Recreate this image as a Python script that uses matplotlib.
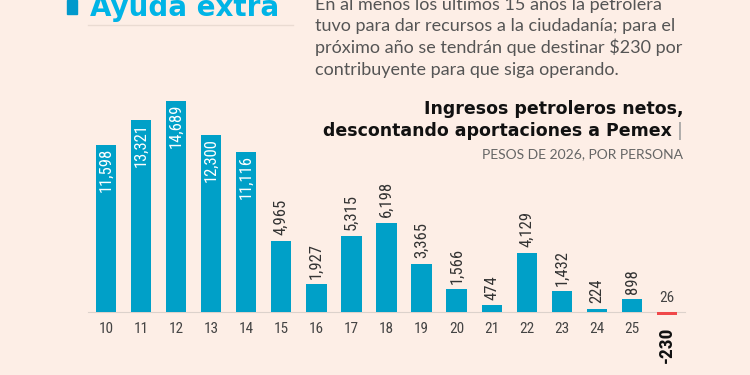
import matplotlib
matplotlib.use('Agg')
import matplotlib.pyplot as plt
from matplotlib import font_manager

# data
years = ['10', '11', '12', '13', '14', '15', '16', '17', '18',
         '19', '20', '21', '22', '23', '24', '25', '26']
values = [11598, 13321, 14689, 12300, 11116, 4965, 1927, 5315, 6198,
          3365, 1566, 474, 4129, 1432, 224, 898, -230]

bg = '#fdeee6'
blue = '#00a0c8'
red = '#f0484a'

# pick a narrow font if one is installed
names = {f.name for f in font_manager.fontManager.ttflist}
narrow_fp = dict(family='DejaVu Sans', stretch='condensed')
for n in ['Liberation Sans Narrow', 'Roboto Condensed', 'Open Sans Condensed']:
    if n in names:
        narrow_fp = dict(family=n)
        break

fig = plt.figure(figsize=(7.5, 3.75), dpi=100)
fig.patch.set_facecolor(bg)

ax = fig.add_axes([88/750, 15/375, 597/750, 270/375])
ax.set_facecolor(bg)
x = list(range(len(values)))
colors = [blue if v >= 0 else red for v in values]
ax.bar(x, values, width=0.58, color=colors, zorder=2)

ax.set_xlim(-0.51, 16.51)
ax.set_ylim(-3336, 15428)
for s in ['top', 'left', 'right']:
    ax.spines[s].set_visible(False)
ax.spines['bottom'].set_position(('data', 0))
ax.spines['bottom'].set_color('#dcd2cc')
ax.spines['bottom'].set_zorder(1)
ax.set_yticks([])
ax.set_xticks(x[:-1])
ax.set_xticklabels(years[:-1], fontsize=11, color='#444444', **narrow_fp)
ax.tick_params(axis='x', length=0, pad=7)

# value labels
for i, v in enumerate(values):
    if v >= 10000:
        ax.annotate(f'{v:,}', (i, v), xytext=(0, -2), textcoords='offset points',
                    rotation=90, ha='center', va='top', color='white',
                    fontsize=12, **narrow_fp)
    elif v >= 0:
        ax.annotate(f'{v:,}', (i, v), xytext=(0, 4), textcoords='offset points',
                    rotation=90, ha='center', va='bottom', color='#333333',
                    fontsize=12, **narrow_fp)
    else:
        ax.annotate(years[i], (i, 0), xytext=(0, 5), textcoords='offset points',
                    ha='center', va='bottom', color='#444444',
                    fontsize=11, **narrow_fp)
        ax.annotate(f'{v:,}', (i, v), xytext=(0, -8), textcoords='offset points',
                    rotation=90, ha='center', va='top', color='#111111',
                    fontweight='bold', fontsize=14, **narrow_fp)

# header
fig.text(90/750, 1 - 16/375, 'Ayuda extra', fontsize=20, fontweight='bold',
         color='#00b4e6', ha='left', va='baseline')
fig.patches.append(plt.Rectangle((67/750, 1 - 14/375), 10/750, 14/375,
                                 transform=fig.transFigure, color='#0099cc'))
fig.lines.append(plt.Line2D([88/750, 293/750], [1 - 25/375, 1 - 25/375],
                            transform=fig.transFigure, color='#eadbd2', lw=1))

para = ['En al menos los últimos 15 años la petrolera',
        'tuvo para dar recursos a la ciudadanía; para el',
        'próximo año se tendrán que destinar $230 por',
        'contribuyente para que siga operando.']
for k, line in enumerate(para):
    fig.text(315/750, 1 - (10 + 21.5*k)/375, line, family='Lato', fontsize=13,
             color='#555555', ha='left', va='baseline')

fig.text(683/750, 1 - 114/375, 'Ingresos petroleros netos,', fontsize=12.5,
         fontweight='bold', color='#111111', ha='right', va='baseline')
fig.text(672/750, 1 - 136/375, 'descontando aportaciones a Pemex', fontsize=12.5,
         fontweight='bold', color='#111111', ha='right', va='baseline')
fig.text(683/750, 1 - 136/375, '|', fontsize=12.5, color='#999999',
         ha='right', va='baseline')
fig.text(683/750, 1 - 158/375, 'PESOS DE 2026, POR PERSONA', family='Lato',
         fontsize=10, color='#666666', ha='right', va='baseline')

fig.savefig('out.png', dpi=100, facecolor=bg)
